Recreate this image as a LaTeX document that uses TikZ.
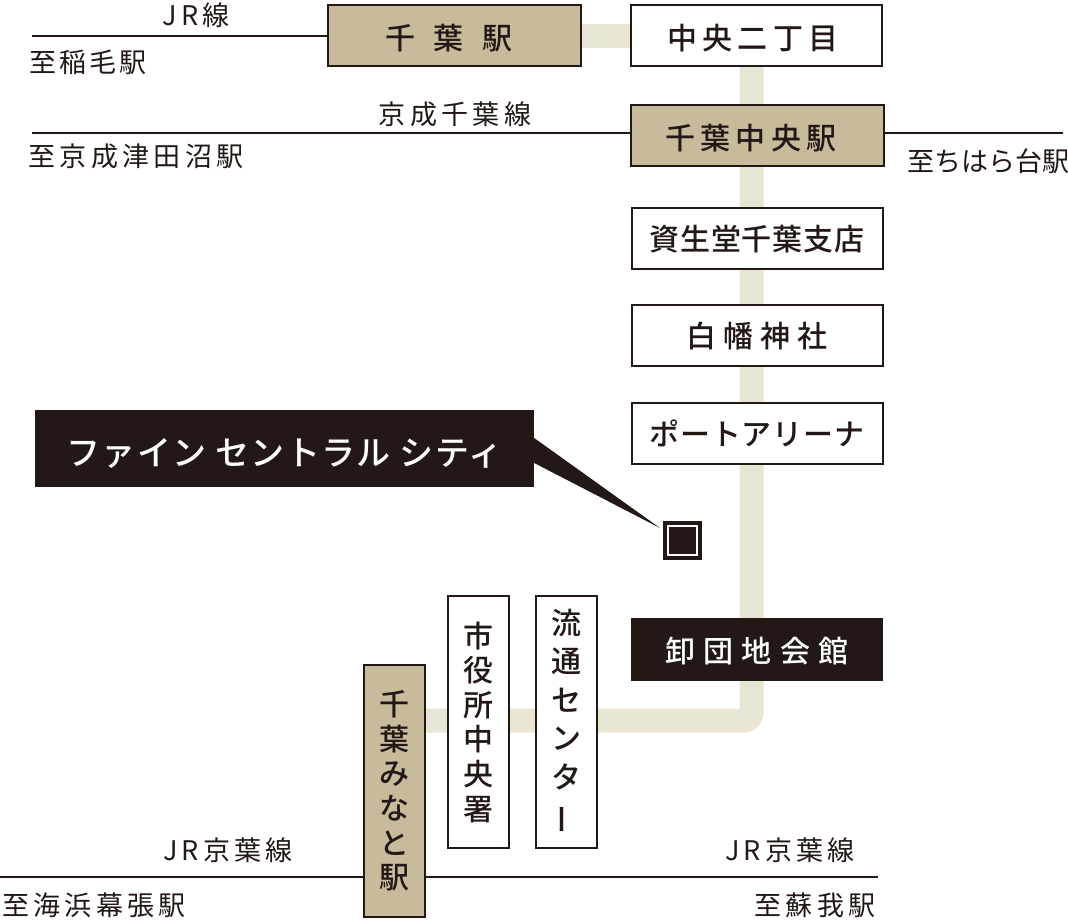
\documentclass[tikz,border=0pt]{standalone}
\usepackage{fontspec}
\setmainfont{Noto Sans CJK JP}
\newfontfamily\boxfont{Noto Sans CJK JP Medium}
\usepackage{tikz}
\usetikzlibrary{positioning,backgrounds}
\definecolor{inkdark}{HTML}{231815}
\definecolor{tanbox}{HTML}{C8BB9B}
\definecolor{routeline}{HTML}{E8E5D5}
\newcommand{\boxtype}[1]{\boxfont\fontsize{30}{36}\selectfont\addfontfeature{LetterSpace=#1}}
\newcommand{\labeltype}[1]{\fontsize{27}{32}\selectfont\addfontfeature{LetterSpace=#1}}
\tikzset{
    every node/.style={text=inkdark,inner sep=0pt},
    place node/.style={draw=inkdark,line width=2pt,fill=white,minimum width=251,minimum height=61,text height=27.8pt,text depth=0pt,font=\boxtype{18}},
    station node/.style={place node,fill=tanbox},
    tall node/.style={draw=inkdark,line width=2pt,fill=white,minimum width=61,minimum height=252,align=center,font=\boxfont\fontsize{30}{34.6}\selectfont},
    line label/.style={font=\labeltype{16}},
    rail/.style={inkdark,line width=2pt},
    route/.style={routeline,line width=24pt}
}
\begin{document}
\begin{tikzpicture}[x=1pt,y=-1pt]
    \useasboundingbox (0,0) rectangle (1068,919);

    \node[station node,minimum width=253,font=\boxtype{63}] (chiba) at (454.5,35.5) {千葉駅\kern11pt};
    \node[place node] (chuo2) at (756.5,35.5) {中央二丁目\kern7pt};
    \node[station node,minimum width=253] (chibachuo) at (757.5,135.5) {千葉中央駅\kern13pt};
    \node[place node,text height=24pt,font=\boxtype{3}] (shiseido) at (757,238) {資生堂千葉支店};
    \node[place node,text height=24pt,font=\boxtype{24}] (shirahata) at (757,335.5) {白幡神社};
    \node[place node,text height=24pt,font=\boxtype{3}] (portarena) at (757,433) {ポートアリーナ};
    \node[place node,draw=none,fill=inkdark,text=white,minimum width=252,minimum height=63,text height=26pt,font=\boxtype{27}] (oroshi) at (757,649.5) {卸団地会館};
    \node[tall node,font=\boxfont\fontsize{30}{38.4}\selectfont] (ryutsu) at (566.5,722) {流\\通\\セ\\ン\\タ\\\rotatebox[origin=c]{90}{ー}};
    \node[tall node] (shiyakusho) at (478.5,722) {市\\役\\所\\中\\央\\署};
    \node[tall node,fill=tanbox] (minato) at (394.5,791) {千\\葉\\み\\な\\と\\駅};

    % route behind the boxes
    \coordinate (bend) at (751.5,720.5);
    \begin{scope}[on background layer]
        \draw[route] (chiba.east) -- (chuo2.west);
        \draw[route,rounded corners=8pt] (chuo2.south -| bend) -- (bend) -- (minato.east |- bend);
    \end{scope}

    \coordinate (jrend) at (32,35.5);
    \coordinate (keiseiend) at (32,133);
    \coordinate (chiharaend) at (1063,133);
    \coordinate (keiyowest) at (0,877);
    \coordinate (keiyoeast) at (878,877);
    \draw[rail] (jrend) -- (chiba.west);
    \draw[rail] (keiseiend) -- (chibachuo.west |- keiseiend);
    \draw[rail] (chibachuo.east |- chiharaend) -- (chiharaend);
    \draw[rail] (keiyowest) -- (minato.west |- keiyowest);
    \draw[rail] (minato.east |- keiyoeast) -- (keiyoeast);

    \node[line label] (jrlabel) at (196,15) {JR線};
    \node[line label,font=\labeltype{10}] (inage) at (88,62) {至稲毛駅};
    \node[line label] (keisei) at (455,114) {京成千葉線};
    \node[line label] (tsudanuma) at (136,156) {至京成津田沼駅};
    \node[line label,font=\labeltype{0}] (chihara) at (988,161) {至ちはら台駅};
    \node[line label] (keiyo1) at (228,850) {JR京葉線};
    \node[line label] (keiyo2) at (790,850) {JR京葉線};
    \node[line label] (makuhari) at (94,905) {至海浜幕張駅};
    \node[line label] (soga) at (815,905) {至蘇我駅};

    % callout and site mark
    \node[fill=inkdark,text=white,minimum width=499,minimum height=77,text height=33pt,text depth=0pt,font=\boxfont\fontsize{34}{40}\selectfont\addfontfeature{LetterSpace=4}] (site) at (284.5,448.5) {ファイン セントラル シティ};
    \node[fill=inkdark,minimum size=39] (mark) at (682.5,540.5) {};
    \node[draw=white,line width=2.8pt,fill=inkdark,minimum size=29] (markin) at (mark) {};
    \coordinate (tip) at (660,528);
    \fill[inkdark] (site.east |- 0,438) -- (tip) -- (site.east |- 0,463) -- cycle;
\end{tikzpicture}
\end{document}
